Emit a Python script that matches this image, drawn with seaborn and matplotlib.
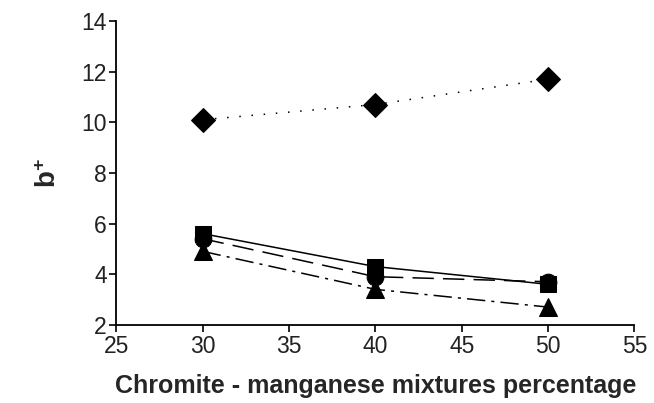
import matplotlib
matplotlib.use("Agg")
import matplotlib.pyplot as plt
import pandas as pd
import seaborn as sns

# Chromite - manganese mixtures percentage
pct = [30, 40, 50]
b_diamond = [10.1, 10.7, 11.7]
b_square = [5.6, 4.3, 3.6]
b_circle = [5.4, 3.9, 3.7]
b_triangle = [4.9, 3.4, 2.7]

sns.set_style("ticks")
plt.rcParams["font.family"] = ["Liberation Sans", "DejaVu Sans"]
plt.rcParams["mathtext.fontset"] = "custom"
plt.rcParams["mathtext.rm"] = "Liberation Sans"
plt.rcParams["mathtext.bf"] = "Liberation Sans:bold"

fig = plt.figure(figsize=(6.54, 4.03), dpi=100)
ax = fig.add_axes([0.178, 0.194, 0.792, 0.754])

series = [
    (b_diamond, "D", 12, (0, (1, 7))),
    (b_square, "s", 11, "-"),
    (b_circle, "o", 12, (0, (14, 6))),
    (b_triangle, "^", 13, (0, (12, 4, 2, 4))),
]
for vals, mk, ms, ls in series:
    df = pd.DataFrame({"x": pct, "y": vals})
    sns.lineplot(data=df, x="x", y="y", ax=ax, color="black", lw=1.1,
                 linestyle=ls, marker=mk, markersize=ms,
                 markeredgecolor="black", markerfacecolor="black")

ax.set_xlim(25, 55)
ax.set_ylim(2, 14)
ax.set_xticks(range(25, 56, 5))
ax.set_yticks(range(2, 15, 2))
ax.tick_params(direction="out", length=5, width=1.2, labelsize=16.5, color="black",
               labelcolor="#222222", pad=2)
for s in ["left", "bottom"]:
    ax.spines[s].set_linewidth(1.3)
    ax.spines[s].set_color("black")
sns.despine(ax=ax)

ax.set_xlabel("Chromite - manganese mixtures percentage", fontsize=18,
              fontweight="bold", labelpad=12)
ax.set_ylabel(r"$\mathbf{b^{+}}$", fontsize=20, labelpad=14)

fig.savefig("out.png", dpi=100)
